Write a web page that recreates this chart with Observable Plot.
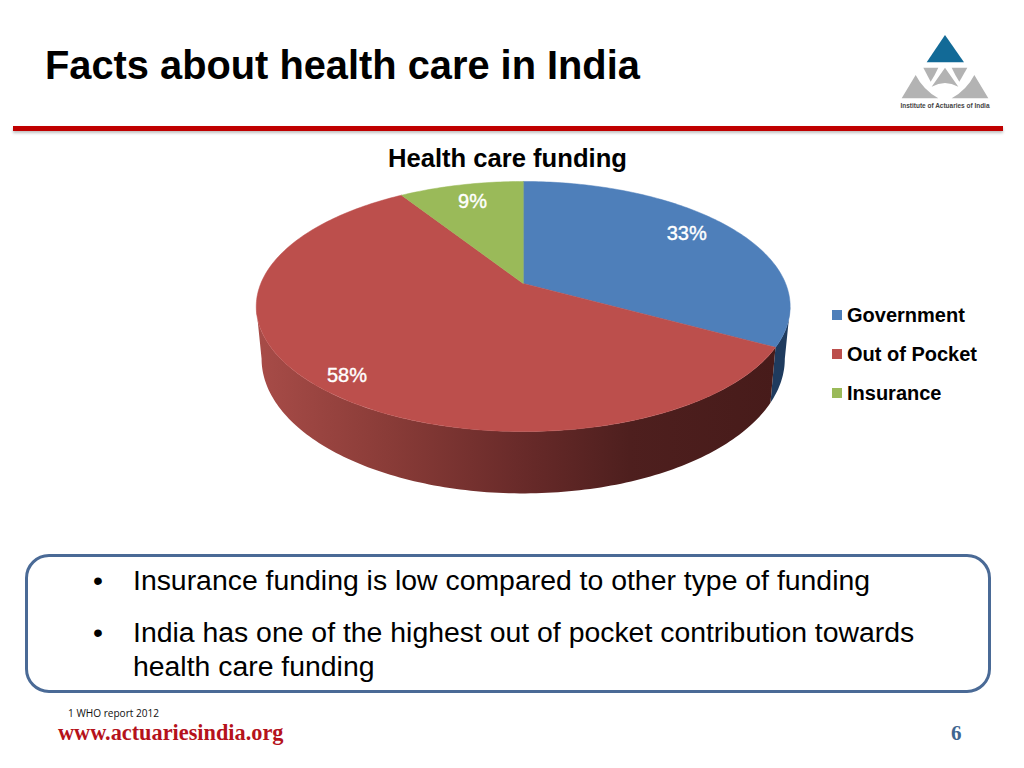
<!DOCTYPE html>
<html>
<head>
<meta charset="utf-8">
<script src="https://cdn.jsdelivr.net/npm/d3@7"></script>
<script src="https://cdn.jsdelivr.net/npm/@observablehq/plot@0.6"></script>
<style>
  html,body{margin:0;padding:0;background:#fff;}
  #slide{position:relative;width:1024px;height:768px;overflow:hidden;font-family:"Liberation Sans",Arial,sans-serif;color:#000;}
  #slide>*{position:absolute;}
  #chart{left:0;top:0;}
  .t{white-space:nowrap;}
  #title{left:45px;top:41px;font-size:39.8px;font-weight:700;line-height:48px;}
  #rule{left:13px;top:126px;width:990px;height:5px;background:#c00000;box-shadow:0 2px 3px rgba(0,0,0,.25);}
  #ctitle{left:388px;top:143px;font-size:25.6px;font-weight:700;line-height:30px;}
  .lg{left:832px;font-size:20px;font-weight:700;line-height:24px;}
  .lg i{position:absolute;left:0;top:7px;width:10px;height:10px;}
  .lg span{margin-left:15px;}
  #box{left:25px;top:554px;width:960px;height:133px;border:3px solid #4a6a96;border-radius:24px;}
  .b{font-size:28.4px;line-height:34px;}
  #ref{left:68px;top:706px;font-family:"Open Sans",sans-serif;font-size:10.1px;line-height:14px;color:#111;}
  #web{left:58px;top:720px;font-family:"Liberation Serif",serif;font-weight:700;font-size:22.3px;line-height:26px;color:#b5121b;}
  #num{left:951px;top:720px;font-family:"Liberation Serif",serif;font-weight:700;font-size:21px;line-height:26px;color:#3f6690;}
  #logo{left:880px;top:20px;}
</style>
</head>
<body>
<div id="slide">
  <div id="chart"></div>
  <div id="title" class="t"></div>
  <div id="rule"></div>
  <svg id="logo" width="130" height="100" viewBox="0 0 390 300">
    <polygon points="195,45 252,127 140,127" fill="#126a97"/>
    <g fill="#b3b3b3">
      <path d="M130,143 L175,143 Q165,165 152,185 Z"/>
      <path d="M215,143 L262,143 L238,185 Q225,165 215,143 Z"/>
      <path d="M195,143 L235,200 Q195,178 155,200 Z"/>
      <path d="M107,165 Q130,210 175,235 L65,235 Z"/>
      <path d="M283,165 Q260,210 215,235 L325,235 Z"/>
    </g>
    <text x="195" y="263" text-anchor="middle" textLength="267" lengthAdjust="spacingAndGlyphs" font-family="Liberation Sans" font-weight="700" font-size="20" fill="#444">Institute of Actuaries of India</text>
  </svg>
  <div id="ctitle" class="t"></div>
  <div id="legend"></div>
  <div id="box"></div>
  <div id="bullets"></div>
  <div id="ref" class="t"></div>
  <div id="web" class="t"></div>
  <div id="num" class="t"></div>
</div>
<script>
// ---- values ----
const categories = ["Government", "Out of Pocket", "Insurance"];
const shares = [33, 58, 9];
const shareLabels = ["33%", "58%", "9%"];
const topColors = ["#4e7fba", "#bc4f4c", "#9aba59"];
const titleText = "Facts about health care in India";
const chartTitle = "Health care funding";
const bulletLines = [
  ["Insurance funding is low compared to other type of funding"],
  ["India has one of the highest out of pocket contribution towards", "health care funding"]
];
const footnote = "1 WHO report 2012";
const website = "www.actuariesindia.org";
const pageNumber = "6";

// ---- 3-D pie view ----
const perspective = 0.184;       // foreshortening of the tilted disc
const cx = 522.7, cy = 283;      // where the pie's centre lands on the page
const rx = 262.4, ry = 120.8;    // plot ranges of the unit disc
const wallDrop = 0.418, wallScale = 0.98;   // base of the pie relative to the top, unit-disc terms
const labelRadius = [0.82, 0.885, 0.81];
const labelAngleShift = [-3.4, -1.7, 0.7];
const silhouette = Math.acos(-perspective) * 180 / Math.PI; // angle where the disc's outline turns

function project(angleDeg, r = 1, drop = 0, k = 1) {
  const a = angleDeg * Math.PI / 180, u = r * Math.sin(a), v = -r * Math.cos(a), d = 1 - perspective * v;
  return {px: k * u / d, py: (v + drop) / d};
}
function arc(a0, a1) { const out = []; const n = Math.max(2, Math.ceil(Math.abs(a1 - a0))); for (let i = 0; i <= n; i++) out.push(a0 + (a1 - a0) * i / n); return out; }

let cum = 0;
const slices = categories.map((c, i) => { const s = {category: c, value: shares[i], label: shareLabels[i], a0: cum * 3.6, a1: (cum + shares[i]) * 3.6, lr: labelRadius[i], shift: labelAngleShift[i]}; cum += shares[i]; return s; });

const topPts = slices.flatMap(s => [{category: s.category, ...project(0, 0)}, ...arc(s.a0, s.a1).map(a => ({category: s.category, ...project(a)}))]);

function wall(a0, a1, key) {
  const t = arc(a0, a1).map(a => ({key, ...project(a)}));
  const b = arc(a1, a0).map(a => ({key, ...project(a, 1, wallDrop, wallScale)}));
  return [...t, ...b];
}
const wallBlue = wall(silhouette, slices[0].a1, "blue");
const wallRed = wall(slices[0].a1, 360 - silhouette, "red");

const labels = slices.map(s => { const mid = (s.a0 + s.a1) / 2 + s.shift; return {label: s.label, ...project(mid, s.lr)}; });

const defs = () => {
  const d = d3.create("svg:defs");
  const g = d.append("linearGradient").attr("id", "redWall").attr("x1", 1).attr("x2", 0).attr("y1", 0).attr("y2", 0);
  [[0, "#471b1a"], [0.28, "#4e1f1e"], [0.5, "#6a2b2a"], [0.75, "#8a3c38"], [1, "#a84c48"]].forEach(([o, c]) => g.append("stop").attr("offset", o).attr("stop-color", c));
  return d.node();
};

const chart = Plot.plot({
  width: 1024, height: 768, margin: 0,
  x: {domain: [-1, 1], range: [cx - rx, cx + rx], axis: null},
  y: {domain: [-1, 1], range: [cy - ry, cy + ry], axis: null},
  color: {domain: categories, range: topColors},
  style: {background: "transparent", fontFamily: "Liberation Sans, Arial, sans-serif"},
  marks: [
    defs,
    Plot.line(wallBlue, {x: "px", y: "py", fill: "#1f3b5e", curve: "linear-closed"}),
    Plot.line(wallRed, {x: "px", y: "py", fill: "url(#redWall)", curve: "linear-closed"}),
    Plot.line(topPts, {x: "px", y: "py", z: "category", fill: "category", stroke: "category", strokeWidth: 0.5, curve: "linear-closed"}),
    Plot.text(labels, {x: "px", y: "py", dx: -1, dy: 1, text: "label", fill: "#fff", stroke: "#fff", strokeWidth: 0.4, fontSize: 20, fontWeight: 400})
  ]
});
document.getElementById("chart").appendChild(chart);

// ---- slide furniture ----
const $ = id => document.getElementById(id);
$("title").textContent = titleText;
$("ctitle").textContent = chartTitle;
$("ref").textContent = footnote;
$("web").textContent = website;
$("num").textContent = pageNumber;
const legendTops = [303, 342, 381];
categories.forEach((c, i) => {
  const el = document.createElement("div");
  el.className = "lg t";
  el.style.top = legendTops[i] + "px";
  el.innerHTML = `<i style="background:${topColors[i]}"></i><span>${c}</span>`;
  $("slide").appendChild(el);
});
const lineTops = [[563], [615, 649]];
bulletLines.forEach((lines, i) => {
  lines.forEach((line, j) => {
    const el = document.createElement("div");
    el.className = "b t";
    el.style.left = "133px";
    el.style.top = lineTops[i][j] + "px";
    el.textContent = line;
    $("slide").appendChild(el);
  });
  const dot = document.createElement("div");
  dot.className = "b t";
  dot.style.left = "93px";
  dot.style.top = lineTops[i][0] + "px";
  dot.textContent = "\u2022";
  $("slide").appendChild(dot);
});
</script>
</body>
</html>
